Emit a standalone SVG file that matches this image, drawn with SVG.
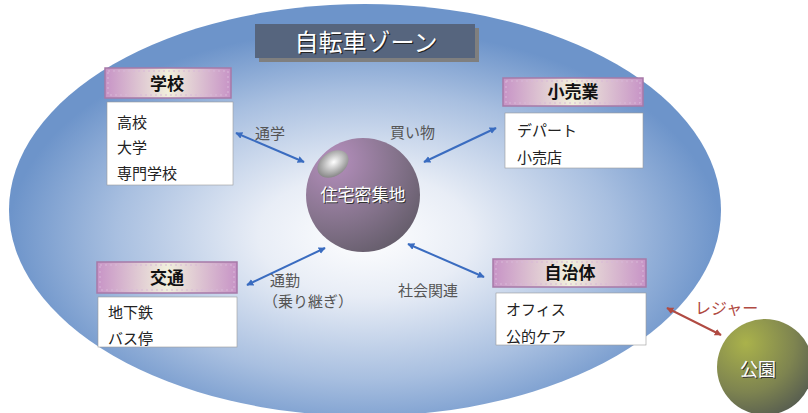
<svg xmlns="http://www.w3.org/2000/svg" width="808" height="413" viewBox="0 0 808 413">
<defs>
<radialGradient id="bg" cx="0.5" cy="0.56" r="0.5">
<stop offset="0" stop-color="#ffffff"/>
<stop offset="0.3" stop-color="#e8edf6"/>
<stop offset="0.7" stop-color="#a8bfe0"/>
<stop offset="1" stop-color="#6d94ca"/>
</radialGradient>
<linearGradient id="hdr" x1="0" y1="0" x2="1" y2="0">
<stop offset="0" stop-color="#c793c6"/>
<stop offset="0.5" stop-color="#f1f0dc"/>
<stop offset="1" stop-color="#c793c6"/>
</linearGradient>
<radialGradient id="sph" cx="0.25" cy="0.2" r="0.9">
<stop offset="0" stop-color="#b58fbd"/>
<stop offset="0.6" stop-color="#85738c"/>
<stop offset="1" stop-color="#655d6b"/>
</radialGradient>
<radialGradient id="hl" cx="0.55" cy="0.45" r="0.55">
<stop offset="0" stop-color="#ffffff"/>
<stop offset="1" stop-color="#8a8a8a"/>
</radialGradient>
<radialGradient id="park" cx="0.3" cy="0.25" r="0.85">
<stop offset="0" stop-color="#aab24b"/>
<stop offset="0.6" stop-color="#7e8450"/>
<stop offset="1" stop-color="#555b50"/>
</radialGradient>
<marker id="ab" viewBox="0 0 10 10" refX="9" refY="5" markerWidth="7" markerHeight="7" orient="auto-start-reverse" markerUnits="userSpaceOnUse">
<path d="M0,0 L10,5 L0,10 z" fill="#3a6cc0"/>
</marker>
<marker id="ar" viewBox="0 0 10 10" refX="9" refY="5" markerWidth="7" markerHeight="7" orient="auto-start-reverse" markerUnits="userSpaceOnUse">
<path d="M0,0 L10,5 L0,10 z" fill="#b04a42"/>
</marker>
<style>
text{font-family:"Noto Sans CJK JP","Noto Sans",sans-serif;}
.hbox{fill:url(#hdr);stroke:#a679a8;stroke-width:1.5;}
.hin{fill:none;stroke:#d8b8d8;stroke-width:1;stroke-dasharray:2 3;}
.ht{font-size:17px;font-weight:bold;fill:#111;text-anchor:middle;}
.lbox{fill:#ffffff;stroke:#9a9a9a;stroke-width:0.6;}
.it{font-size:15px;fill:#222;}
.lbl{font-size:15px;fill:#555;}
.conn{stroke:#3a6cc0;stroke-width:2;fill:none;marker-start:url(#ab);marker-end:url(#ab);}
</style>
</defs>

<g id="zone">
<ellipse cx="365" cy="210" rx="356" ry="206" fill="url(#bg)"/>
</g>

<g id="title">
<rect x="259" y="28" width="220" height="34" fill="#7f7f7f"/>
<rect x="255" y="24" width="220" height="34" fill="#56657e"/>
<text x="366" y="51" font-size="24" fill="#222" text-anchor="middle" transform="translate(1.2,1.2)">自転車ゾーン</text>
<text x="366" y="51" font-size="24" fill="#ffffff" text-anchor="middle">自転車ゾーン</text>
</g>

<g id="connectors">
<line class="conn" x1="236" y1="133" x2="304" y2="162"/>
<line class="conn" x1="424" y1="162" x2="496" y2="128"/>
<line class="conn" x1="247" y1="285" x2="325" y2="248"/>
<line class="conn" x1="408" y1="244" x2="484" y2="277"/>
<line x1="667" y1="308" x2="721" y2="335" stroke="#b04a42" stroke-width="2" marker-start="url(#ar)" marker-end="url(#ar)"/>
<text class="lbl" x="255" y="139">通学</text>
<text class="lbl" x="390" y="138">買い物</text>
<text class="lbl" font-size="14"><tspan x="270" y="286">通勤</tspan><tspan x="263" y="307">（乗り継ぎ）</tspan></text>
<text class="lbl" x="398" y="296">社会関連</text>
<text x="695" y="314" font-size="16" fill="#b04a42">レジャー</text>
</g>

<g id="school">
<rect class="lbox" x="107" y="102" width="126" height="83"/>
<text class="it" x="117" y="128">高校</text>
<text class="it" x="117" y="153">大学</text>
<text class="it" x="117" y="179">専門学校</text>
<rect class="hbox" x="105" y="68" width="126" height="30"/>
<rect class="hin" x="108" y="71" width="120" height="24"/>
<text class="ht" x="167" y="90">学校</text>
</g>

<g id="retail">
<rect class="lbox" x="505" y="113" width="138" height="55"/>
<text class="it" x="517" y="136">デパート</text>
<text class="it" x="517" y="163">小売店</text>
<rect class="hbox" x="503" y="78" width="140" height="28"/>
<rect class="hin" x="506" y="81" width="134" height="22"/>
<text class="ht" x="573" y="98">小売業</text>
</g>

<g id="transport">
<rect class="lbox" x="98" y="297" width="139" height="50"/>
<text class="it" x="108" y="318">地下鉄</text>
<text class="it" x="108" y="344">バス停</text>
<rect class="hbox" x="97" y="262" width="140" height="31"/>
<rect class="hin" x="100" y="265" width="134" height="25"/>
<text class="ht" x="167" y="284">交通</text>
</g>

<g id="municipal">
<rect class="lbox" x="496" y="293" width="150" height="52"/>
<text class="it" x="506" y="315">オフィス</text>
<text class="it" x="506" y="342">公的ケア</text>
<rect class="hbox" x="493" y="259" width="153" height="28"/>
<rect class="hin" x="496" y="262" width="147" height="22"/>
<text class="ht" x="570" y="279">自治体</text>
</g>

<g id="residential">
<circle cx="363" cy="195" r="57" fill="url(#sph)"/>
<ellipse cx="333" cy="164" rx="17" ry="12" transform="rotate(-35 333 164)" fill="url(#hl)"/>
<text x="363" y="201" font-size="17" fill="#333" text-anchor="middle" transform="translate(1,1)">住宅密集地</text>
<text x="363" y="201" font-size="17" fill="#ffffff" text-anchor="middle">住宅密集地</text>
</g>

<g id="park-node">
<circle cx="765" cy="367" r="48" fill="url(#park)"/>
<text x="758" y="376" font-size="18" fill="#333" text-anchor="middle" transform="translate(1,1)">公園</text>
<text x="758" y="376" font-size="18" fill="#ffffff" text-anchor="middle">公園</text>
</g>
</svg>
